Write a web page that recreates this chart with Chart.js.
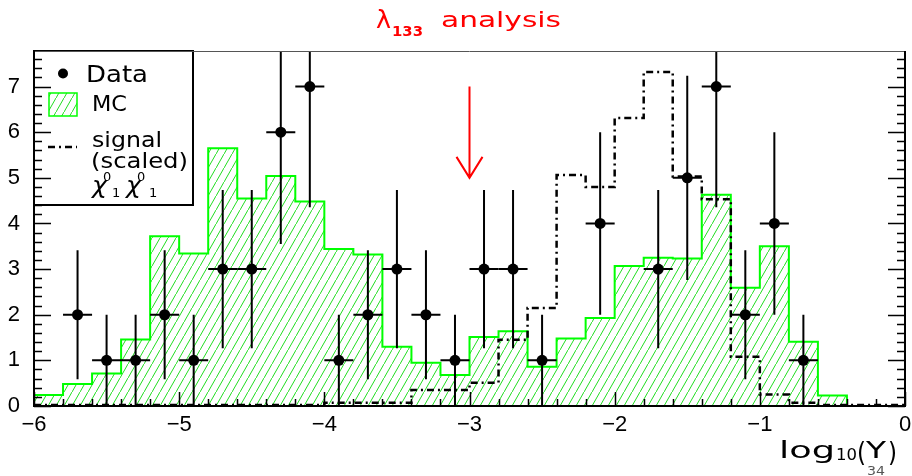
<!DOCTYPE html>
<html>
<head>
<meta charset="utf-8">
<script src="https://cdn.jsdelivr.net/npm/chart.js@4.4.1/dist/chart.umd.min.js"></script>
<style>
  html, body { margin: 0; padding: 0; background: #fff; }
  #wrap { width: 912px; height: 476px; }
</style>
</head>
<body>
<div id="wrap"><canvas id="chart" width="912" height="476"></canvas></div>
<script>
// log10(Y34) bins, 0.2 wide
const binLow = [-6.0, -5.8, -5.6, -5.4, -5.2, -5.0, -4.8, -4.6, -4.4, -4.2,
                -4.0, -3.8, -3.6, -3.4, -3.2, -3.0, -2.8, -2.6, -2.4, -2.2,
                -2.0, -1.8, -1.6, -1.4, -1.2, -1.0, -0.8, -0.6, -0.4, -0.2];
const binWidth = 0.2;

// events per bin
const dataCounts = [0, 2, 1, 1, 2, 1, 3, 3, 6, 7,
                    1, 2, 3, 2, 1, 3, 3, 1, 0, 4,
                    0, 3, 5, 7, 2, 4, 1, 0, 0, 0];
const mcCounts = [0.24, 0.48, 0.71, 1.46, 3.72, 3.34, 5.65, 4.55, 5.04, 4.48,
                  3.44, 3.32, 1.30, 0.95, 0.68, 1.51, 1.64, 0.86, 1.48, 1.93,
                  3.07, 3.25, 3.23, 4.63, 2.59, 3.50, 1.41, 0.23, 0, 0];
const signalScaled = [0.02, 0.02, 0.02, 0.02, 0.02, 0.02, 0.02, 0.02, 0.02, 0.02,
                      0.07, 0.07, 0.07, 0.35, 0.35, 0.51, 1.45, 2.15, 5.06, 4.80,
                      6.31, 7.32, 5.03, 4.53, 1.08, 0.25, 0.07, 0.02, 0.02, 0.02];

const xRange = [-6, 0];
const yRange = [0, 7.78];
const cutValue = -3.0;       // where the red arrow points
const arrowFrom = [7.0, 5.0]; // arrow top / tip, in y units

// hatch pattern for the MC histogram
function makeHatch() {
  const c = document.createElement('canvas');
  c.width = 8; c.height = 14;
  const g = c.getContext('2d');
  g.strokeStyle = '#22dd22';
  g.lineWidth = 1;
  g.beginPath();
  g.moveTo(-1, 14 + 14 / 8);
  g.lineTo(9, -14 / 8);
  g.stroke();
  return g.createPattern(c, 'repeat');
}
const hatch = makeHatch();

function stepPoints(vals, closeToZero) {
  const last = binLow[binLow.length - 1] + binWidth;
  const pts = binLow.map((b, i) => ({ x: b, y: vals[i] }));
  pts.push({ x: last, y: vals[vals.length - 1] });
  if (closeToZero) {
    pts.unshift({ x: binLow[0], y: 0 });
    pts.push({ x: last, y: 0 });
  }
  return pts;
}

const dataPoints = binLow
  .map((b, i) => ({ x: b + binWidth / 2, y: dataCounts[i] }))
  .filter(p => p.y > 0);

function wideText(ctx, str, x, y, size, width, color, style) {
  ctx.save();
  ctx.font = (style ? style + ' ' : '') + size + 'px "DejaVu Sans"';
  const w = ctx.measureText(str).width;
  ctx.translate(x, y);
  if (width) ctx.scale(width / w, 1);
  ctx.fillStyle = color || '#000';
  ctx.textBaseline = 'alphabetic';
  ctx.textAlign = 'left';
  ctx.fillText(str, 0, 0);
  ctx.restore();
}

const errorBars = {
  id: 'errorBars',
  beforeDatasetDraw(chart, args) {
    if (args.index !== 2) return;
    const { ctx, chartArea: a, scales: { x, y } } = chart;
    ctx.save();
    ctx.beginPath();
    ctx.rect(a.left, a.top, a.right - a.left, a.bottom - a.top);
    ctx.clip();
    ctx.strokeStyle = '#000';
    ctx.lineWidth = 2;
    dataPoints.forEach(p => {
      const e = Math.sqrt(p.y);
      const px = x.getPixelForValue(p.x);
      const py = y.getPixelForValue(p.y);
      ctx.beginPath();
      ctx.moveTo(px, y.getPixelForValue(p.y - e));
      ctx.lineTo(px, y.getPixelForValue(p.y + e));
      ctx.moveTo(x.getPixelForValue(p.x - binWidth / 2), py);
      ctx.lineTo(x.getPixelForValue(p.x + binWidth / 2), py);
      ctx.stroke();
    });
    ctx.restore();
  }
};

const decor = {
  id: 'decor',
  afterDraw(chart) {
    const { ctx, chartArea: a, scales: { x, y } } = chart;

    // red arrow at the cut
    const ax = x.getPixelForValue(cutValue);
    const top = y.getPixelForValue(arrowFrom[0]);
    const tip = y.getPixelForValue(arrowFrom[1]);
    ctx.save();
    ctx.strokeStyle = '#ff0000';
    ctx.lineWidth = 2;
    ctx.beginPath();
    ctx.moveTo(ax, top); ctx.lineTo(ax, tip);
    ctx.moveTo(ax - 13, tip - 21); ctx.lineTo(ax, tip); ctx.lineTo(ax + 13, tip - 21);
    ctx.stroke();
    ctx.restore();

    // legend box
    ctx.save();
    ctx.fillStyle = '#fff';
    ctx.fillRect(a.left, a.top, 159, 154);
    ctx.strokeStyle = '#000';
    ctx.lineWidth = 2;
    ctx.strokeRect(a.left, a.top, 159, 154);
    ctx.fillStyle = '#000';
    ctx.beginPath();
    ctx.arc(63, 73.5, 5, 0, Math.PI * 2);
    ctx.fill();
    wideText(ctx, 'Data', 86, 82, 23, 62);
    ctx.fillStyle = hatch;
    ctx.fillRect(49, 93, 28, 23);
    ctx.strokeStyle = '#00ff00';
    ctx.lineWidth = 1.5;
    ctx.strokeRect(49, 93, 28, 23);
    wideText(ctx, 'MC', 92, 111, 22, 35);
    ctx.strokeStyle = '#000';
    ctx.lineWidth = 2.5;
    ctx.setLineDash([7, 4, 2, 4]);
    ctx.beginPath();
    ctx.moveTo(48, 147); ctx.lineTo(77, 147);
    ctx.stroke();
    ctx.setLineDash([]);
    wideText(ctx, 'signal', 92, 147, 22, 70);
    wideText(ctx, '(scaled)', 91, 168, 22, 97);
    wideText(ctx, '\u03c7', 92, 193, 23, 15, '#000', 'italic');
    wideText(ctx, '0', 103, 181, 13, 0);
    wideText(ctx, '1', 112, 197, 13, 0);
    wideText(ctx, '\u03c7', 126, 193, 23, 15, '#000', 'italic');
    wideText(ctx, '0', 137, 181, 13, 0);
    wideText(ctx, '1', 149, 197, 13, 0);
    ctx.restore();

    // frame
    ctx.save();
    ctx.strokeStyle = '#555';
    ctx.lineWidth = 1;
    ctx.beginPath();
    ctx.moveTo(a.left, a.top + 0.5); ctx.lineTo(a.right, a.top + 0.5);
    ctx.stroke();
    ctx.strokeStyle = '#000';
    ctx.lineWidth = 2;
    ctx.beginPath();
    ctx.moveTo(a.left, a.top); ctx.lineTo(a.left, a.bottom); ctx.lineTo(a.right, a.bottom); ctx.lineTo(a.right, a.top);
    ctx.stroke();

    // inward ticks
    ctx.lineWidth = 1.5;
    ctx.beginPath();
    for (let k = 0; k * 0.2 <= yRange[1] + 1e-9; k++) {
      const py = Math.round(y.getPixelForValue(k * 0.2)) + 0.5;
      const len = k % 5 === 0 ? 17 : 8;
      ctx.moveTo(a.left, py); ctx.lineTo(a.left + len, py);
      ctx.moveTo(a.right, py); ctx.lineTo(a.right - len, py);
    }
    for (let k = 0; k <= 30; k++) {
      const px = Math.round(x.getPixelForValue(xRange[0] + k * 0.2)) + 0.5;
      const len = k % 5 === 0 ? 14 : 7;
      ctx.moveTo(px, a.bottom); ctx.lineTo(px, a.bottom - len);
    }
    ctx.stroke();
    ctx.restore();

    // title
    wideText(ctx, '\u03bb', 376, 28, 24, 15, '#ff0000');
    wideText(ctx, '133', 392, 36, 14, 31, '#ff0000', 'bold');
    wideText(ctx, 'analysis', 441, 27, 22, 120, '#ff0000');

    // axis title log10(Y34)
    wideText(ctx, 'log', 779, 458, 23, 56);
    wideText(ctx, '10', 836, 460, 15, 21);
    wideText(ctx, '(', 857, 461, 26, 9);
    wideText(ctx, 'Y', 866, 458, 23, 20);
    wideText(ctx, '34', 867, 475, 12, 18, '#555');
    wideText(ctx, ')', 888, 461, 26, 9);
  }
};

new Chart(document.getElementById('chart'), {
  type: 'line',
  data: {
    datasets: [
      {
        label: 'MC',
        data: stepPoints(mcCounts, true),
        stepped: true,
        borderColor: '#00ff00',
        borderWidth: 2,
        backgroundColor: hatch,
        fill: 'origin',
        pointRadius: 0,
        order: 3
      },
      {
        label: 'signal (scaled)',
        data: stepPoints(signalScaled, false),
        stepped: true,
        borderColor: '#000',
        borderWidth: 2.5,
        borderDash: [7, 4, 2, 4],
        fill: false,
        pointRadius: 0,
        order: 2
      },
      {
        type: 'scatter',
        label: 'Data',
        data: dataPoints,
        pointRadius: 5.5,
        pointBackgroundColor: '#000',
        pointBorderColor: '#000',
        pointBorderWidth: 0,
        showLine: false,
        order: 1
      }
    ]
  },
  options: {
    responsive: false,
    animation: false,
    devicePixelRatio: 1,
    layout: { padding: { top: 51, right: 7, left: 0, bottom: 0 } },
    plugins: { legend: { display: false }, tooltip: { enabled: false }, title: { display: false } },
    scales: {
      x: {
        type: 'linear',
        min: xRange[0], max: xRange[1],
        afterFit: s => { s.height = 70; s.paddingLeft = 0; s.paddingRight = 0; },
        grid: { display: false, drawTicks: false },
        border: { display: false },
        ticks: {
          stepSize: 1, padding: 6, maxRotation: 0, color: '#000',
          font: { family: '"Liberation Sans", Arial', size: 22 },
          callback: v => v < 0 ? '\u2212' + Math.abs(v) : String(v)
        }
      },
      y: {
        min: yRange[0], max: yRange[1],
        afterFit: s => { s.width = 34; s.paddingTop = 0; s.paddingBottom = 0; },
        afterBuildTicks: s => { s.ticks = s.ticks.filter(t => Number.isInteger(t.value)); },
        grid: { display: false, drawTicks: false },
        border: { display: false },
        ticks: {
          stepSize: 1, padding: 14, color: '#000',
          font: { family: '"Liberation Sans", Arial', size: 22 }
        }
      }
    }
  },
  plugins: [errorBars, decor]
});
</script>
</body>
</html>
